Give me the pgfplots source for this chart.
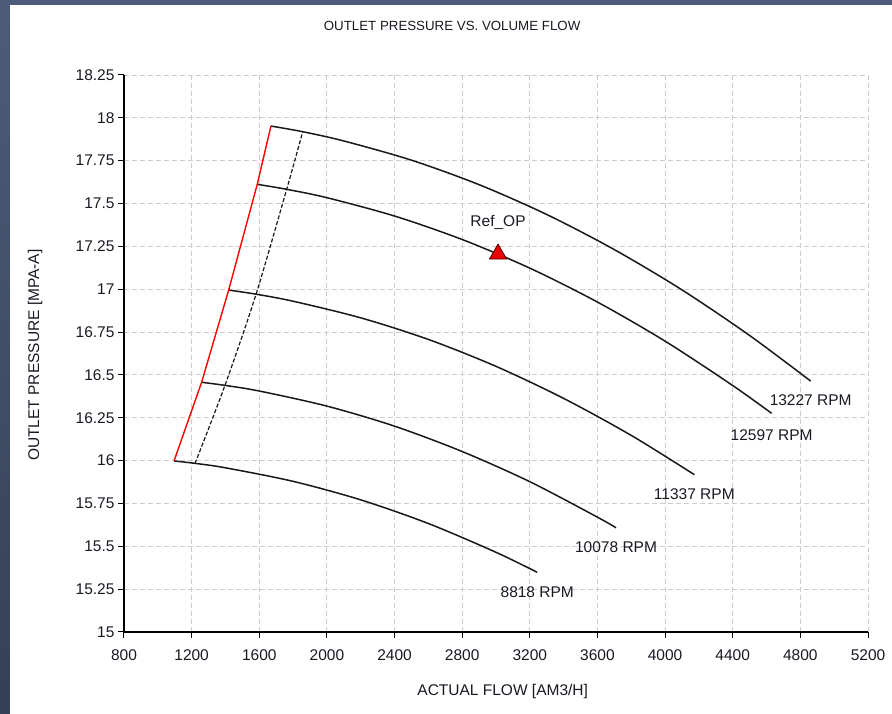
\documentclass[border=0pt]{standalone}
\usepackage{fontspec}
\setmainfont{Liberation Sans}
\usepackage{pgfplots}
\pgfplotsset{compat=1.18}
\definecolor{framecol}{RGB}{76,92,120}
\definecolor{framedark}{RGB}{52,64,86}
\definecolor{gridgray}{RGB}{205,205,205}
\definecolor{txt}{RGB}{25,25,35}
\definecolor{opred}{RGB}{230,0,0}

\begin{document}
\begin{tikzpicture}[x=1pt,y=1pt]
\fill[framecol] (0,0) rectangle (892,714);
\shade[top color=framecol, bottom color=framedark] (0,0) rectangle (10,709);
\fill[white] (10,0) rectangle (892,709);
\useasboundingbox (0,0) rectangle (892,714);
\begin{axis}[
    at={(124pt,82pt)}, anchor=south west,
    scale only axis, width=744pt, height=557pt,
    xmin=800, xmax=5200, ymin=15, ymax=18.25,
    xtick={800,1200,1600,2000,2400,2800,3200,3600,4000,4400,4800,5200},
    ytick={15,15.25,15.5,15.75,16,16.25,16.5,16.75,17,17.25,17.5,17.75,18,18.25},
    axis x line*=bottom, axis y line*=left,
    axis line style={black, line width=1.4pt},
    tick align=outside, major tick length=6pt,
    tick style={black, line width=1pt},
    grid=major,
    major grid style={gridgray, line width=0.9pt, dash pattern=on 5pt off 3pt},
    /pgf/number format/assume math mode=true,
    /pgf/number format/1000 sep={},
    yticklabel style={/pgf/number format/fixed, /pgf/number format/precision=2},
    xticklabel style={yshift=-8pt},
    tick label style={font=\fontsize{15.5}{18}\selectfont, text=txt},
    title={OUTLET PRESSURE VS. VOLUME FLOW},
    title style={at={(axis description cs:0.441,1.077)}, anchor=center, font=\fontsize{13.3}{16}\selectfont, text=txt},
    xlabel={ACTUAL FLOW [AM3/H]},
    xlabel style={at={(axis description cs:0.509,-0.106)}, anchor=center, font=\fontsize{15.5}{18}\selectfont, text=txt},
    ylabel={OUTLET PRESSURE [MPA-A]},
    ylabel style={at={(axis description cs:-0.1196,0.497)}, anchor=center, font=\fontsize{15.5}{18}\selectfont, text=txt},
    clip=false,
]
% speed lines
\addplot[black!90, line width=1.5pt, smooth, tension=0.5] coordinates {
(1669,17.952)(1857,17.919)(2100,17.865)(2500,17.753)(2900,17.610)(3300,17.436)(3700,17.231)(4100,16.996)(4500,16.730)(4861,16.464)};
\addplot[black!90, line width=1.5pt, smooth, tension=0.5] coordinates {
(1588,17.612)(1762,17.583)(2000,17.534)(2400,17.427)(2800,17.290)(3200,17.123)(3600,16.925)(4000,16.697)(4400,16.438)(4630,16.276)};
\addplot[black!90, line width=1.5pt, smooth, tension=0.5] coordinates {
(1419,16.995)(1581,16.971)(1800,16.930)(2200,16.833)(2600,16.707)(3000,16.550)(3400,16.363)(3800,16.147)(4173,15.918)};
\addplot[black!90, line width=1.5pt, smooth, tension=0.5] coordinates {
(1259,16.457)(1397,16.439)(1600,16.406)(2000,16.318)(2400,16.201)(2800,16.053)(3200,15.877)(3600,15.670)(3710,15.608)};
\addplot[black!90, line width=1.5pt, smooth, tension=0.5] coordinates {
(1096,15.998)(1220,15.984)(1400,15.958)(1800,15.879)(2200,15.771)(2600,15.633)(3000,15.465)(3244,15.348)};
% surge line
\addplot[red, line width=1.4pt] coordinates {
(1096,15.998)(1259,16.457)(1419,16.995)(1588,17.612)(1669,17.952)};
% control line
\addplot[black!90, line width=1.2pt, dash pattern=on 4pt off 2pt, smooth, tension=0.5] coordinates {
(1220,15.984)(1397,16.439)(1581,16.971)(1762,17.583)(1857,17.919)};
% operating point
\addplot[only marks, mark=triangle*, mark size=10pt, mark options={fill=opred, draw=black!70!red, line width=0.8pt}] coordinates {(3012,17.205)};
\node[font=\fontsize{15.5}{18}\selectfont, text=txt] at (axis cs:3012,17.205) [yshift=32pt] {Ref\_OP};
% speed labels
\begin{scope}[every node/.style={font=\fontsize{15.5}{18}\selectfont, text=txt}]
\node at (axis cs:4861,16.464) [yshift=-19pt] {13227 RPM};
\node at (axis cs:4630,16.276) [yshift=-22pt] {12597 RPM};
\node at (axis cs:4173,15.918) [yshift=-20pt] {11337 RPM};
\node at (axis cs:3710,15.608) [yshift=-19pt] {10078 RPM};
\node at (axis cs:3244,15.348) [yshift=-20pt] {8818 RPM};
\end{scope}
\end{axis}
\end{tikzpicture}
\end{document}
